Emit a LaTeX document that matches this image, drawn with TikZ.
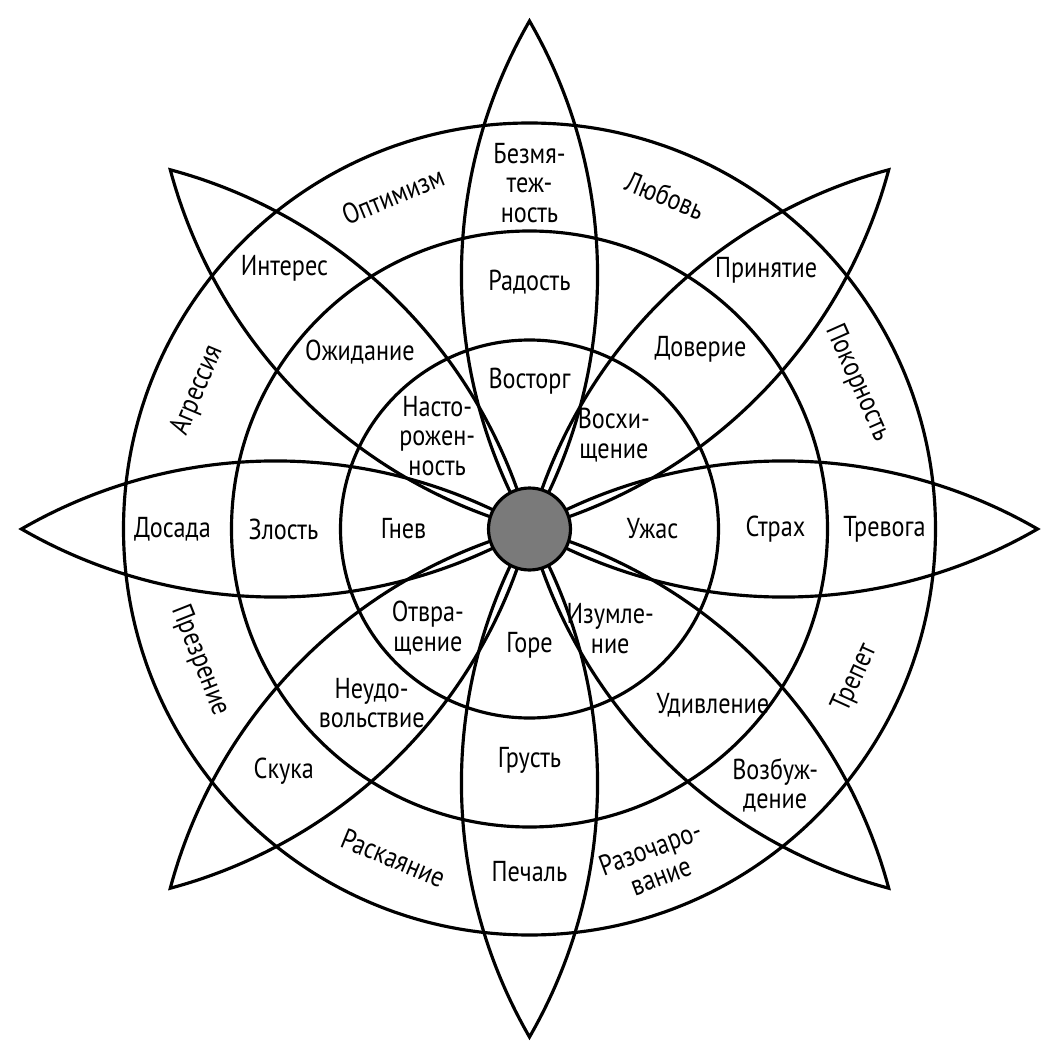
\documentclass[tikz,border=0pt]{standalone}
\usepackage{fontspec}
\setmainfont{PT Sans}[FakeStretch=0.84]
\tikzset{
    ring/.style={
        draw,
        line width=1.8pt
    },
    petal/.style={
        draw,
        line width=1.8pt
    },
    hub/.style={
        circle,
        draw,
        line width=1.8pt,
        fill=black!52,
        minimum size=1.64cm,
        inner sep=0pt
    },
    lbl/.style={
        align=center,
        inner sep=0pt,
        font=\fontsize{16.4}{16.8}\selectfont
    }
}

\begin{document}
\begin{tikzpicture}[x=0.02cm, y=0.02cm]
    \useasboundingbox (-529.5,-529) rectangle (531.5,529);
    % three rings
    \draw[ring] (0,0) circle[radius=189];
    \draw[ring] (0,0) circle[radius=298];
    \draw[ring] (0,0) circle[radius=406];
    % eight petals
    \foreach \a in {0,45,...,315}
        \draw[petal, rotate=\a] (0,0) arc[start angle=120, end angle=60, radius=508]
            arc[start angle=-60, end angle=-120, radius=508];
    \node[hub] (hub) at (0,0) {};

    % top
    \node[lbl] (bezm) at (90:346) {Безмя-\\теж-\\ность};
    \node[lbl] (rad) at (90:247) {Радость};
    \node[lbl] (vost) at (90:148) {Восторг};
    % top right
    \node[lbl] (prin) at (47.6:351) {Принятие};
    \node[lbl] (dov) at (46.4:248) {Доверие};
    \node[lbl] (vosh) at (48:126) {Восхи-\\щение};
    % right
    \node[lbl] (trev) at (0:355) {Тревога};
    \node[lbl] (strah) at (0:246) {Страх};
    \node[lbl] (uzh) at (0:123) {Ужас};
    % bottom right
    \node[lbl] (vozb) at (-46.2:355) {Возбуж-\\дение};
    \node[lbl] (udiv) at (-43.8:254) {Удивление};
    \node[lbl] (izum) at (-50.9:128) {Изумле-\\ние};
    % bottom
    \node[lbl] (pech) at (-90:343) {Печаль};
    \node[lbl] (grust) at (-90:231) {Грусть};
    \node[lbl] (gore) at (-90:116) {Горе};
    % bottom left
    \node[lbl] (skuka) at (-135.4:345) {Скука};
    \node[lbl] (neud) at (-132.2:235) {Неудо-\\вольствие};
    \node[lbl] (otvr) at (-135.7:142) {Отвра-\\щение};
    % left
    \node[lbl] (dos) at (180:357) {Досада};
    \node[lbl] (zlost) at (180:246) {Злость};
    \node[lbl] (gnev) at (180:126) {Гнев};
    % top left
    \node[lbl] (inter) at (133.2:358) {Интерес};
    \node[lbl] (ozhid) at (133.8:245) {Ожидание};
    \node[lbl] (nast) at (134.8:131) {Насто-\\рожен-\\ность};

    % outer ring, between petals
    \node[lbl, rotate=22.3] (optim) at (112.3:360) {Оптимизм};
    \node[lbl, rotate=-22.1] (lub) at (67.9:360) {Любовь};
    \node[lbl, rotate=-66] (pokor) at (24:359) {Покорность};
    \node[lbl, rotate=65.4] (trep) at (-24.6:358) {Трепет};
    \node[lbl, rotate=20.7] (razoch) at (-69.3:356) {Разочаро-\\вание};
    \node[lbl, rotate=-22.5] (rask) at (-112.5:356) {Раскаяние};
    \node[lbl, rotate=-68.3] (prezr) at (-158.3:355) {Презрение};
    \node[lbl, rotate=67.3] (agr) at (157.3:360) {Агрессия};
\end{tikzpicture}
\end{document}
